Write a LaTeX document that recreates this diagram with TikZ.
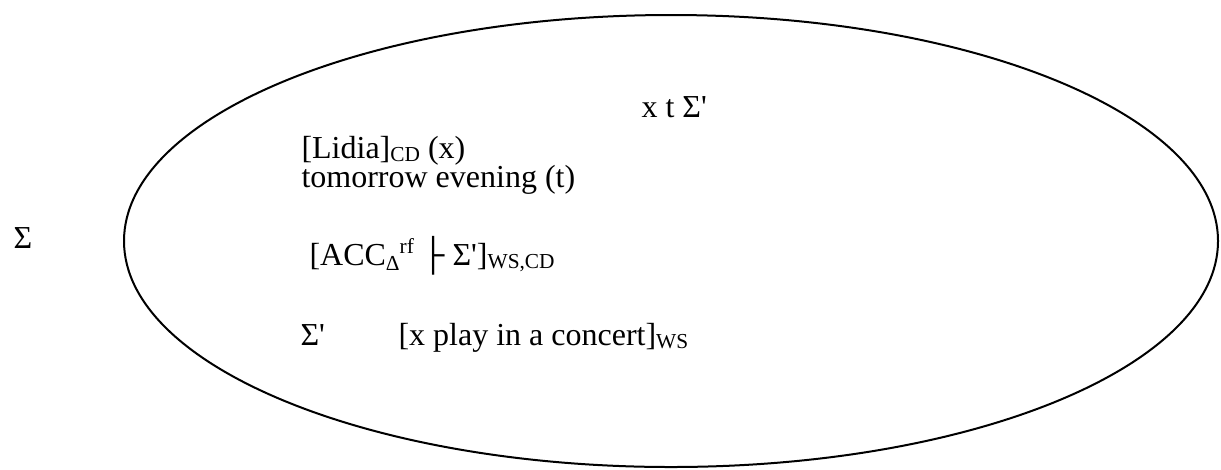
\documentclass[tikz,border=0pt]{standalone}
\usepackage{fontspec}
\newfontfamily\wordfont{Liberation Serif}
\newcommand{\wdsub}[1]{\raisebox{-1.2pt}{\fontsize{8}{8}\selectfont #1}}
\newcommand{\wdsup}[1]{\raisebox{4.5pt}{\fontsize{8}{8}\selectfont #1}}
\begin{document}
\begin{tikzpicture}[x=0.375pt, y=-0.375pt, every node/.style={font=\wordfont\fontsize{12}{14}\selectfont, inner sep=0pt, anchor=base west}]
\useasboundingbox (0,0) rectangle (1221,469);
% outer situation
\node (sigma) at (13,248) {Σ};
% inner situation frame
\draw[line width=0.75pt] (671,241) ellipse [x radius=547, y radius=226];
\node (vars) at (641,117) {x t Σ'};
\node (lidia) at (301,158) {[Lidia]\wdsub{CD} (x)};
\node (evening) at (301,187) {tomorrow evening (t)};
\node (acc) at (309,265) {[ACC\raisebox{-2pt}{\fontsize{8}{8}\selectfont Δ}\wdsup{rf} ├ Σ']\wdsub{WS,CD}};
\node (sigmap) at (300,345) {Σ'};
\node (play) at (398,345) {[x play in a concert]\wdsub{WS}};
\end{tikzpicture}
\end{document}
